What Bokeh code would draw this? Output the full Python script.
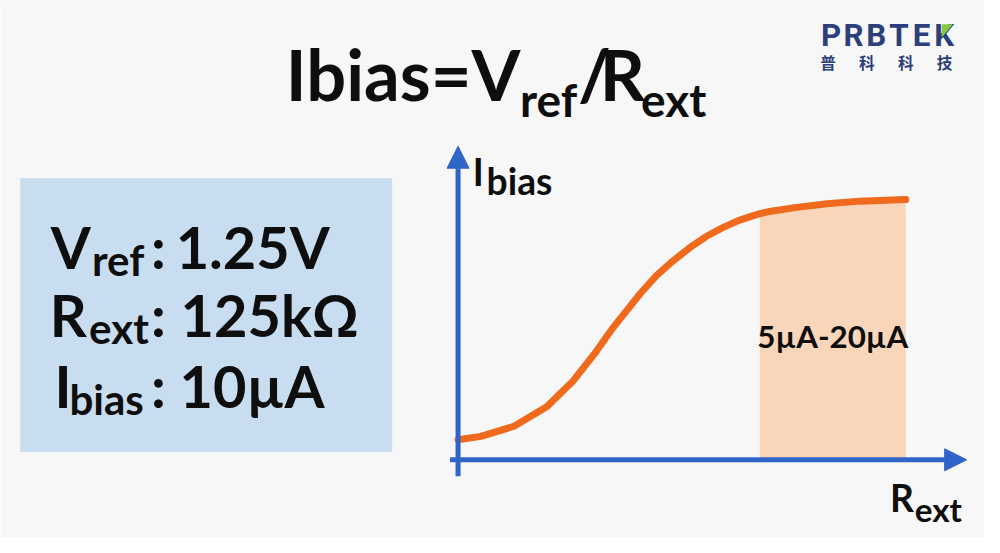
from bokeh.plotting import figure
from bokeh.models import Range1d, Arrow, NormalHead
from bokeh.core.properties import value
from bokeh.embed import file_html
from bokeh.resources import INLINE

# ---------------- data ----------------
rext = [0, 5.1, 12.5, 19.8, 25.7, 30.8, 34.4, 37.0, 40.7, 44.3, 48.0, 51.6, 55.3,
        59.0, 62.6, 66.3, 67.4, 69.2, 75.2, 82.4, 89.7, 100]
ibias = [7.7, 9.0, 12.9, 20.4, 30.3, 41.5, 50.3, 55.9, 63.9, 70.8, 76.4, 81.3, 85.7,
         89.1, 91.9, 94.0, 94.6, 95.3, 96.9, 98.4, 99.4, 100]
band_start = 67.4
band_end = 100
band_label = "5µA-20µA"

title_runs = ["Ibias=V", "ref", "/", "R", "ext"]
title_is_sub = [False, True, False, False, True]
box_mains = ["V", "R", "I"]
box_subs = ["ref", "ext", "bias"]
box_values = ["1.25V", "125kΩ", "10µA"]
logo_letters = ["P", "R", "B", "T", "E", "K"]
logo_cn = ["普", "科", "科", "技"]

# ---------------- layout constants ----------------
W, H = 984, 537
FS = 0.978  # font scale (reference canvas 1000x553 shown in 984x537)
MID = 0.37  # distance baseline -> visual middle, in em
BG = "#f7f7f7"
BLUE = "#2f64c8"
ORANGE = "#ef6a1c"
SHADE = "#f9d5b9"
NAVY = "#2b3f7c"
GREEN = "#8cc63f"
INK = "#0e0e0e"
FONT = "Lato"

# chart anchors in canvas pixels (Rext=0 / 100, Ibias=0 / 100)
X0, X100 = 465, 920
Y0, Y100 = 473, 205
kx = (X100 - X0) / 100.0
ky = (Y0 - Y100) / 100.0

p = figure(width=W, height=H, x_range=Range1d(0, 1000), y_range=Range1d(553, 0),
           output_backend="svg", toolbar_location=None, min_border=0)
p.axis.visible = False
p.grid.visible = False
p.outline_line_color = None
p.background_fill_color = BG
p.border_fill_color = BG

p.extra_x_ranges = {"r": Range1d((0 - X0) / kx, (1000 - X0) / kx)}
p.extra_y_ranges = {"i": Range1d((Y0 - 553) / ky, (Y0 - 0) / ky)}


def txt(x, base, s, size, color=INK, font=FONT, align="left", style="bold"):
    # base = alphabetic baseline in canvas pixels; drawn with a middle anchor
    p.text(x=[x], y=[base - MID * size], text=[s], text_font=value(font),
           text_font_size=f"{size * FS:.1f}px", text_font_style=style,
           text_color=color, text_align=align, text_baseline="middle")


# ---------------- title ----------------
title_x = [290, 528, 587, 609, 651]
for s, sub, x in zip(title_runs, title_is_sub, title_x):
    if sub:
        txt(x, 119, s, 47)
    else:
        txt(x, 102, s, 72)

# ---------------- logo ----------------
for j, ch in enumerate(logo_letters):
    txt(844 + 23.0 * j, 48, ch, 32, color=NAVY, font="Roboto", align="center")
p.patch([957, 967, 957], [25, 25, 37], fill_color=GREEN, line_color=GREEN)
for j, ch in enumerate(logo_cn):
    txt(841 + 39.5 * j, 69, ch, 16, color=NAVY, font="Noto Sans CJK SC", align="center")

# ---------------- info box ----------------
p.quad(left=20, right=398, top=183, bottom=465, fill_color="#c8ddf0", line_color=None)
main_x = [51, 50, 55]
sub_x = [93, 90, 70]
colon_x = [153, 153, 153]
val_x = [178, 183, 182]
base_y = [275, 345, 418]
for k in range(3):
    txt(main_x[k], base_y[k], box_mains[k], 59)
    txt(sub_x[k], base_y[k] + 8, box_subs[k], 43)
    txt(colon_x[k], base_y[k], ":", 59)
    txt(val_x[k], base_y[k], box_values[k], 59)

# ---------------- chart ----------------
bx = [x for x in rext if band_start <= x <= band_end]
by = [y for x, y in zip(rext, ibias) if band_start <= x <= band_end]
p.varea(x=bx, y1=[0] * len(bx), y2=by, fill_color=SHADE, x_range_name="r", y_range_name="i")
p.text(x=[(band_start + band_end) / 2], y=[47.5], text=[band_label], text_font=value(FONT),
       text_font_size=f"{32 * FS:.1f}px", text_font_style="bold", text_color=INK,
       text_align="center", text_baseline="middle", x_range_name="r", y_range_name="i")

p.line(rext, ibias, line_width=7, line_color=ORANGE, line_cap="round", line_join="round",
       x_range_name="r", y_range_name="i")

p.add_layout(Arrow(end=NormalHead(size=22, fill_color=BLUE, line_color=BLUE),
                   x_start=0, y_start=-6.3, x_end=0, y_end=120.5, line_width=5,
                   line_color=BLUE, x_range_name="r", y_range_name="i"))
p.add_layout(Arrow(end=NormalHead(size=22, fill_color=BLUE, line_color=BLUE),
                   x_start=-1.8, y_start=0, x_end=113.6, y_end=0, line_width=5,
                   line_color=BLUE, x_range_name="r", y_range_name="i"))

# axis labels
txt(480, 190, "I", 38)
txt(494, 199, "bias", 38)
txt(904, 526, "R", 38)
txt(929, 536, "ext", 34)

open("out.html", "w").write(file_html(p, INLINE))
